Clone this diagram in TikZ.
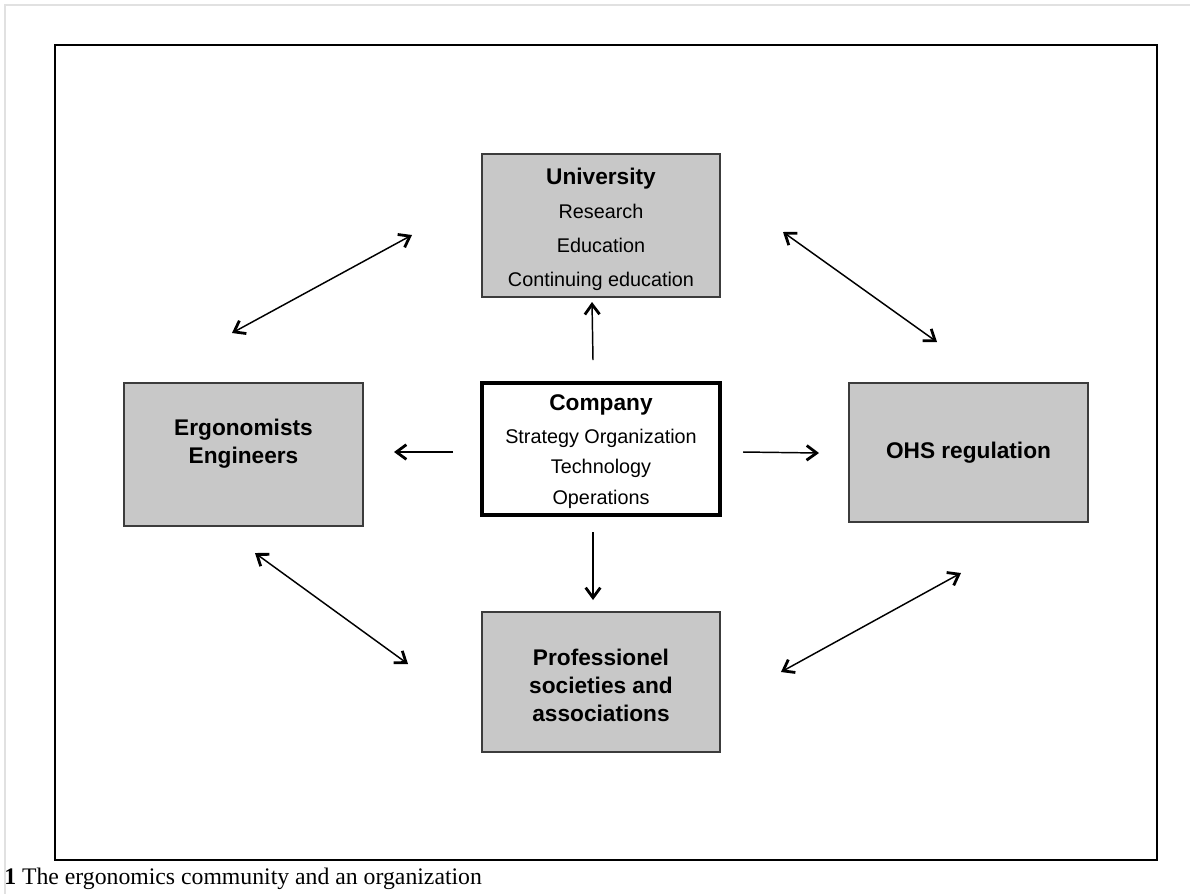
\documentclass[tikz,border=0pt]{standalone}
\usepackage{fontspec}
\setmainfont{Liberation Serif}
\setsansfont{Liberation Sans}
\usetikzlibrary{arrows.meta}
\definecolor{boxfill}{RGB}{200,200,200}
\definecolor{boxline}{RGB}{60,60,60}
\definecolor{pageedge}{RGB}{225,225,225}
\begin{document}
\begin{tikzpicture}[x=0.75pt,y=-0.75pt,
  graybox/.style={draw=boxline,line width=1pt,fill=boxfill,inner sep=0pt},
  mainbox/.style={draw=black,line width=2.6pt,fill=white,inner sep=0pt},
  boxtext/.style={inner sep=0pt,align=center,font=\sffamily},
  link/.style={line width=1.1pt,draw=black},
  tipr/.style={-{Straight Barb[length=7.5pt,width=11pt,line width=2.1pt]}},
  tipb/.style={{Straight Barb[length=7.5pt,width=11pt,line width=2.1pt]}-{Straight Barb[length=7.5pt,width=11pt,line width=2.1pt]}}
]
\useasboundingbox (0,0) rectangle (1192,894);
% page edge
\draw[pageedge,line width=0.9pt] (5,894) -- (5,5) -- (1190,5);
% frame
\node[draw=black,line width=1.5pt,minimum width=1102*0.75pt,minimum height=815*0.75pt,inner sep=0pt] (frame) at (606,452.5) {};
% boxes
\node[graybox,minimum width=238*0.75pt,minimum height=143*0.75pt] (uni) at (601,225.5) {};
\node[mainbox,minimum width=238*0.75pt,minimum height=132*0.75pt] (comp) at (601,449) {};
\node[graybox,minimum width=239*0.75pt,minimum height=143*0.75pt] (ergo) at (243.5,454.5) {};
\node[graybox,minimum width=239*0.75pt,minimum height=139*0.75pt] (ohs) at (968.5,452.5) {};
\node[graybox,minimum width=238*0.75pt,minimum height=140*0.75pt] (prof) at (601,682) {};
% box texts
\node[boxtext,font=\sffamily\fontsize{14.85}{25.5}\selectfont] (unitext) at (601,229)
  {{\fontsize{17}{25.5}\selectfont\bfseries University}\\ Research\\ Education\\ Continuing education};
\node[boxtext,font=\sffamily\fontsize{14.85}{23}\selectfont] (comptext) at (601,451.5)
  {{\fontsize{17}{23}\selectfont\bfseries Company}\\[1.5pt] Strategy Organization\\ Technology\\ Operations};
\node[boxtext,font=\sffamily\fontsize{17}{21}\selectfont\bfseries] (ergotext) at (243.5,444)
  {Ergonomists\\ Engineers};
\node[boxtext,font=\sffamily\fontsize{17}{21}\selectfont\bfseries] (ohstext) at (968.5,453)
  {OHS regulation};
\node[boxtext,font=\sffamily\fontsize{17}{21}\selectfont\bfseries] (proftext) at (601,685)
  {Professionel\\ societies and\\ associations};
% arrow end points
\coordinate (cu1) at (593,360); \coordinate (cu2) at (592,302);
\coordinate (cl1) at (453,452); \coordinate (cl2) at (394,452);
\coordinate (cr1) at (743,452); \coordinate (cr2) at (819,453);
\coordinate (cd1) at (593,532); \coordinate (cd2) at (593,600);
\coordinate (ul1) at (232,333); \coordinate (ul2) at (412,235);
\coordinate (ur1) at (783,232); \coordinate (ur2) at (937,342);
\coordinate (ll1) at (255,553); \coordinate (ll2) at (408,664);
\coordinate (lr1) at (781,672); \coordinate (lr2) at (961,573);
\draw[link,tipr] (cu1) -- (cu2);
\draw[link,tipr] (cl1) -- (cl2);
\draw[link,tipr] (cr1) -- (cr2);
\draw[link,tipr] (cd1) -- (cd2);
\draw[link,tipb] (ul1) -- (ul2);
\draw[link,tipb] (ur1) -- (ur2);
\draw[link,tipb] (ll1) -- (ll2);
\draw[link,tipb] (lr1) -- (lr2);
% caption
\node[anchor=base west,inner sep=0pt,font=\fontsize{17.8}{20}\selectfont] (cap) at (4,884)
  {\textbf{1} The ergonomics community and an organization};
\end{tikzpicture}
\end{document}
